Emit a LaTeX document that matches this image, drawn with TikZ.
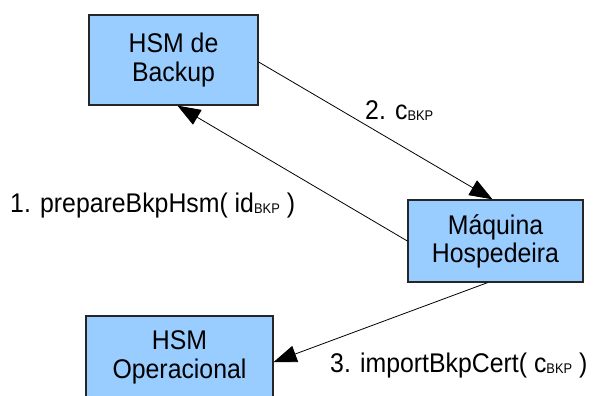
\documentclass[tikz,border=0pt]{standalone}
\usepackage{fontspec}
\setmainfont{Liberation Sans}[FakeStretch=0.92]
\usetikzlibrary{arrows.meta}
\definecolor{boxblue}{HTML}{99CCFF}
\newcommand{\bkpsub}{\raisebox{-1.5pt}{\fontsize{14}{14}\selectfont BKP}}
\tikzset{
  unit/.style={draw=black!85, line width=1.3pt, fill=boxblue, align=center,
    font=\fontsize{27}{29}\selectfont, inner sep=0pt},
  msg/.style={draw=black, line width=0.8pt, -{Triangle[length=23pt,width=17pt]}},
  lbl/.style={font=\fontsize{27}{29}\selectfont, inner sep=0pt, anchor=base west}
}
\begin{document}
\begin{tikzpicture}[x=1pt,y=-1pt]
  \useasboundingbox (0,0) rectangle (594,396);
  \clip (0,0) rectangle (594,396);
  % hosts and HSMs
  \node[unit, minimum width=169pt, minimum height=90pt] (backup) at (173.5,60) {HSM de\\Backup};
  \node[unit, minimum width=175pt, minimum height=82pt, font=\fontsize{27}{28}\selectfont] (host) at (495.5,241) {Máquina\\Hospedeira};
  \node[unit, minimum width=187pt, minimum height=92pt] (oper) at (179.5,362) {};
  \node[font=\fontsize{27}{29}\selectfont, align=center, inner sep=0pt] (opertxt) at (179.5,357) {HSM\\Operacional};
  % protocol messages
  \draw[msg] ([yshift=-2pt]backup.east) -- ([xshift=-3pt]host.north);
  \draw[msg] (host.west) -- ([xshift=4pt]backup.south);
  \draw[msg] ([xshift=-8pt]host.south) -- (oper.east);
  % message labels
  \node[lbl] (l2) at (365,119) {2. c\bkpsub};
  \node[lbl] (l1) at (10,212) {1. prepareBkpHsm( id\bkpsub\ )};
  \node[lbl] (l3) at (330,372) {3. importBkpCert( c\bkpsub\ )};
\end{tikzpicture}
\end{document}
